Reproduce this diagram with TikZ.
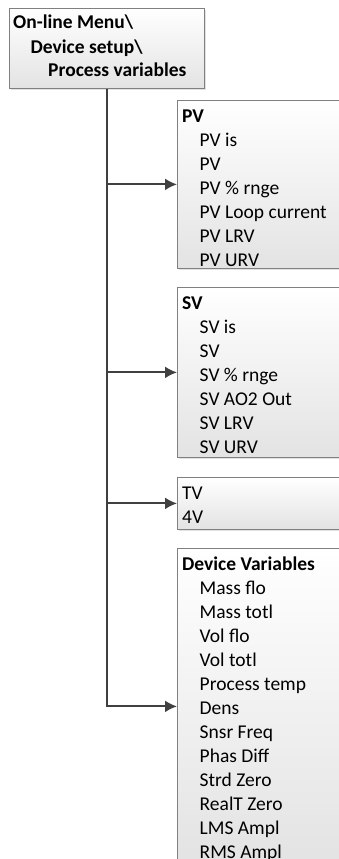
\documentclass[tikz,border=0pt]{standalone}
\usepackage{fontspec}
\setmainfont{Carlito}
\usetikzlibrary{arrows.meta,shadows}
\newcommand{\ind}{\hspace*{17.5pt}}

\begin{document}
\begin{tikzpicture}[x=1pt, y=-1pt,
  menubox/.style={draw=gray, line width=0.8pt, top color=white, bottom color=gray!22,
    drop shadow={shadow xshift=2pt, shadow yshift=-2pt, fill=gray!45},
    minimum width=200pt, inner sep=0pt, anchor=north west},
  menutext/.style={anchor=north west, inner sep=0pt, align=left,
    font=\fontsize{19.5}{24}\selectfont},
  link/.style={draw=black!75, line width=1.9pt, -{Latex[length=12pt,width=12pt]}}]
  \useasboundingbox (0,0) rectangle (338,859);

  % menu boxes
  \node[menubox, minimum width=195pt, minimum height=80pt] (top) at (9,8) {};
  \node[menubox, minimum height=168pt] (pv) at (177,100) {};
  \node[menubox, minimum height=170pt] (sv) at (177,287) {};
  \node[menubox, minimum height=52pt] (tv) at (177,477) {};
  \node[menubox, minimum height=316pt] (dv) at (177,548) {};

  % texts
  \node[menutext] (toptext) at ([shift={(4,4)}]top.north west)
    {\strut\textbf{On-line Menu\textbackslash}\\
     \ind\textbf{Device setup\textbackslash}\\
     \ind\ind\textbf{Process variables}};
  \node[menutext] (pvtext) at ([shift={(5,5)}]pv.north west)
    {\strut\textbf{PV}\\ \ind PV is\\ \ind PV\\ \ind PV \% rnge\\
     \ind PV Loop current\\ \ind PV LRV\\ \ind PV URV};
  \node[menutext] (svtext) at ([shift={(5,5)}]sv.north west)
    {\strut\textbf{SV}\\ \ind SV is\\ \ind SV\\ \ind SV \% rnge\\
     \ind SV AO2 Out\\ \ind SV LRV\\ \ind SV URV};
  \node[menutext] (tvtext) at ([shift={(5,5)}]tv.north west)
    {\strut TV\\ 4V};
  \node[menutext] (dvtext) at ([shift={(5,5)}]dv.north west)
    {\strut\textbf{Device Variables}\\ \ind Mass flo\\ \ind Mass totl\\
     \ind Vol flo\\ \ind Vol totl\\ \ind Process temp\\ \ind Dens\\
     \ind Snsr Freq\\ \ind Phas Diff\\ \ind Strd Zero\\ \ind RealT Zero\\
     \ind LMS Ampl\\ \ind RMS Ampl};

  % connectors
  \draw[link] (top.south) |- (dv.west);
  \draw[link] (top.south |- pv.west) -- (pv.west);
  \draw[link] (top.south |- sv.west) -- (sv.west);
  \draw[link] (top.south |- tv.west) -- (tv.west);
\end{tikzpicture}
\end{document}
